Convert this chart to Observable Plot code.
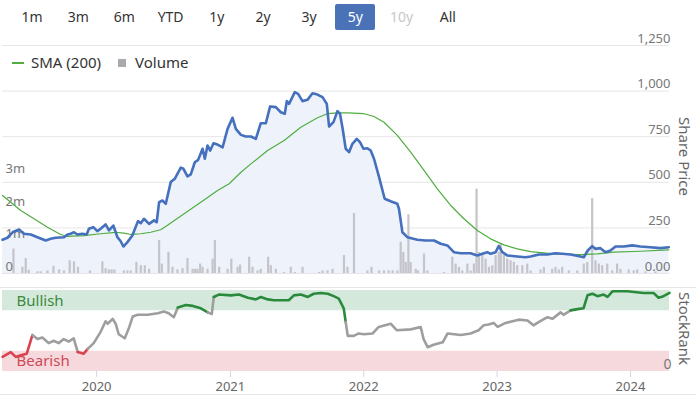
<!DOCTYPE html>
<html><head><meta charset="utf-8">
<script src="https://cdn.jsdelivr.net/npm/d3@7"></script>
<script src="https://cdn.jsdelivr.net/npm/@observablehq/plot@0.6"></script>
<style>
body{margin:0;background:#fff;font-family:"Noto Sans",sans-serif;}
#wrap{position:relative;width:696px;height:396px;overflow:hidden;background:#fff;}
#wrap svg{position:absolute;left:0;top:0;}
.btn{position:absolute;top:4px;height:26px;line-height:26px;font-size:14px;color:#333;text-align:center;width:40px;border-radius:2px;}
.btn.sel{background:#4a73b7;color:#fff;}
.btn.dis{color:#c8c8c8;}
.leg{position:absolute;font-size:15px;color:#333;line-height:18px;}
.vlab{position:absolute;writing-mode:vertical-rl;font-size:15px;color:#666;white-space:nowrap;}
.hline{position:absolute;left:0;width:696px;height:1px;background:#e6e6e6;}
</style></head>
<body><div id="wrap"></div>
<script>
// ---------- data (dates as decimal years) ----------
const rangeButtons = ["1m","3m","6m","YTD","1y","2y","3y","5y","10y","All"];
const selectedRange = "5y";
const disabledRange = "10y";
const legendItems = ["SMA (200)", "Volume"];

const priceTicks = [0, 250, 500, 750, 1000, 1250];
const volumeTicks = [0, 1, 2, 3];         // millions
const yearTicks = [2020, 2021, 2022, 2023, 2024];
const bullishMin = 75, bearishMax = 25;  // StockRank zones

const sharePrice = [[2019.294,185],[2019.331,196],[2019.369,226],[2019.418,241],[2019.455,218],[2019.506,214],[2019.556,199],[2019.618,181],[2019.655,190],[2019.693,196],[2019.755,199],[2019.781,214],[2019.805,218],[2019.830,226],[2019.855,214],[2019.893,218],[2019.925,214],[2019.942,245],[2019.975,254],[2020.005,232],[2020.030,245],[2020.067,269],[2020.092,236],[2020.125,263],[2020.155,199],[2020.180,177],[2020.200,148],[2020.230,172],[2020.267,208],[2020.309,287],[2020.330,276],[2020.354,300],[2020.392,272],[2020.429,291],[2020.449,281],[2020.467,391],[2020.492,400],[2020.517,382],[2020.554,501],[2020.584,519],[2020.629,580],[2020.649,574],[2020.679,532],[2020.704,543],[2020.734,610],[2020.759,623],[2020.792,684],[2020.809,629],[2020.829,702],[2020.849,674],[2020.874,714],[2020.904,707],[2020.942,692],[2020.979,793],[2021.016,854],[2021.041,793],[2021.079,760],[2021.116,751],[2021.154,751],[2021.191,738],[2021.228,824],[2021.266,824],[2021.298,916],[2021.341,912],[2021.378,884],[2021.408,876],[2021.423,945],[2021.440,930],[2021.483,994],[2021.508,985],[2021.541,945],[2021.578,952],[2021.616,988],[2021.653,981],[2021.691,967],[2021.723,930],[2021.740,806],[2021.773,830],[2021.803,890],[2021.822,876],[2021.840,802],[2021.865,684],[2021.890,665],[2021.915,711],[2021.948,738],[2021.972,720],[2021.998,684],[2022.028,687],[2022.052,674],[2022.077,629],[2022.115,528],[2022.157,410],[2022.202,396],[2022.252,382],[2022.264,355],[2022.290,226],[2022.327,199],[2022.402,185],[2022.464,181],[2022.527,181],[2022.577,163],[2022.627,154],[2022.676,117],[2022.727,111],[2022.801,111],[2022.852,99],[2022.889,108],[2022.927,117],[2022.951,108],[2022.989,117],[2023.013,151],[2023.039,117],[2023.076,99],[2023.151,93],[2023.213,89],[2023.251,93],[2023.313,104],[2023.376,104],[2023.438,111],[2023.488,108],[2023.551,104],[2023.625,93],[2023.650,89],[2023.680,126],[2023.713,150],[2023.738,135],[2023.775,139],[2023.813,117],[2023.850,126],[2023.888,148],[2023.950,148],[2024.013,154],[2024.075,148],[2024.150,144],[2024.225,139],[2024.287,144]];

const sma200 = [[2019.294,428],[2019.356,391],[2019.431,345],[2019.530,300],[2019.631,254],[2019.730,214],[2019.781,203],[2019.905,208],[2020.030,218],[2020.142,226],[2020.204,221],[2020.255,214],[2020.330,218],[2020.404,226],[2020.479,240],[2020.530,265],[2020.654,327],[2020.779,391],[2020.904,455],[2020.991,492],[2021.079,555],[2021.154,601],[2021.279,674],[2021.403,729],[2021.528,802],[2021.653,854],[2021.728,876],[2021.803,881],[2021.878,881],[2022.002,876],[2022.077,861],[2022.152,829],[2022.252,757],[2022.352,665],[2022.452,565],[2022.552,464],[2022.652,373],[2022.751,300],[2022.852,236],[2022.951,190],[2023.051,157],[2023.151,135],[2023.251,120],[2023.426,108],[2023.625,104],[2023.751,108],[2023.875,117],[2024.075,122],[2024.287,130]];

const volumeM = [[2019.376,0.75],[2019.443,0.19],[2019.468,0.46],[2019.491,0.10],[2019.556,0.05],[2019.581,0.05],[2019.631,0.08],[2019.676,0.22],[2019.718,0.11],[2019.755,0.08],[2019.798,0.39],[2019.830,0.36],[2019.860,0.19],[2019.950,0.08],[2020.043,0.36],[2020.067,0.15],[2020.092,0.11],[2020.112,0.11],[2020.133,0.11],[2020.204,0.08],[2020.230,0.08],[2020.255,0.08],[2020.297,0.34],[2020.330,0.24],[2020.360,0.24],[2020.392,0.13],[2020.467,1.01],[2020.487,0.29],[2020.537,0.65],[2020.567,0.19],[2020.604,0.11],[2020.642,0.15],[2020.679,0.46],[2020.717,0.13],[2020.736,0.13],[2020.754,0.13],[2020.774,0.29],[2020.792,0.19],[2020.829,0.13],[2020.867,0.44],[2020.884,1.01],[2020.916,0.19],[2020.979,0.13],[2021.007,0.44],[2021.054,0.19],[2021.073,0.26],[2021.141,0.5],[2021.166,0.19],[2021.204,0.08],[2021.228,0.13],[2021.283,0.5],[2021.303,0.24],[2021.341,0.13],[2021.403,0.03],[2021.453,0.19],[2021.483,0.03],[2021.541,0.19],[2021.665,0.03],[2021.691,0.08],[2021.728,0.08],[2021.766,0.13],[2021.852,0.55],[2021.878,0.19],[2021.927,1.84],[2022.028,0.08],[2022.058,0.19],[2022.115,0.08],[2022.152,0.08],[2022.187,0.08],[2022.217,0.08],[2022.252,0.08],[2022.277,0.96],[2022.297,0.65],[2022.315,0.34],[2022.335,1.80],[2022.352,0.34],[2022.390,0.13],[2022.407,0.08],[2022.452,0.6],[2022.477,0.08],[2022.601,0.03],[2022.664,0.5],[2022.689,0.29],[2022.714,0.19],[2022.739,0.08],[2022.777,0.29],[2022.801,0.08],[2022.826,0.29],[2022.846,2.59],[2022.864,0.65],[2022.889,0.6],[2022.914,0.44],[2022.939,0.19],[2022.964,0.24],[2022.989,0.55],[2023.013,0.65],[2023.028,0.91],[2023.051,0.55],[2023.076,0.44],[2023.101,0.39],[2023.126,0.34],[2023.151,0.24],[2023.189,0.24],[2023.226,0.29],[2023.251,0.08],[2023.326,0.11],[2023.351,0.19],[2023.413,0.13],[2023.438,0.19],[2023.463,0.11],[2023.488,0.19],[2023.538,0.08],[2023.601,0.08],[2023.650,0.29],[2023.676,0.34],[2023.713,2.30],[2023.738,0.39],[2023.763,0.29],[2023.788,0.24],[2023.826,0.29],[2023.863,0.08],[2023.900,0.29],[2023.925,0.13],[2023.987,0.11],[2024.025,0.08],[2024.050,0.11],[2024.112,0.05],[2024.187,0.05]];

const stockRank = [[2019.294,18],[2019.356,24],[2019.393,18],[2019.431,20],[2019.476,22],[2019.518,45],[2019.556,40],[2019.593,42],[2019.640,35],[2019.678,38],[2019.715,35],[2019.753,40],[2019.790,37],[2019.828,41],[2019.858,24],[2019.903,22],[2019.933,28],[2019.978,35],[2020.030,49],[2020.067,62],[2020.082,59],[2020.120,65],[2020.142,59],[2020.165,46],[2020.210,41],[2020.240,53],[2020.270,68],[2020.307,70],[2020.382,70],[2020.457,72],[2020.502,74],[2020.539,72],[2020.577,67],[2020.607,79],[2020.667,82],[2020.719,81],[2020.779,78],[2020.831,73],[2020.861,71],[2020.876,92],[2020.914,95],[2021.004,94],[2021.064,95],[2021.131,91],[2021.191,89],[2021.228,92],[2021.281,89],[2021.326,88],[2021.438,88],[2021.476,94],[2021.528,95],[2021.581,92],[2021.625,96],[2021.678,97],[2021.730,96],[2021.775,93],[2021.813,90],[2021.850,78],[2021.865,61],[2021.880,44],[2021.925,44],[2021.963,47],[2022.000,46],[2022.067,47],[2022.112,55],[2022.202,59],[2022.247,51],[2022.352,52],[2022.427,55],[2022.449,40],[2022.479,30],[2022.524,33],[2022.592,36],[2022.629,47],[2022.727,45],[2022.801,47],[2022.861,51],[2022.899,57],[2022.936,58],[2022.974,60],[2023.004,55],[2023.064,60],[2023.161,64],[2023.228,63],[2023.273,57],[2023.311,61],[2023.378,67],[2023.416,65],[2023.476,73],[2023.498,70],[2023.551,75.5],[2023.603,77],[2023.648,78],[2023.678,94],[2023.715,96],[2023.753,93],[2023.798,95],[2023.828,92],[2023.865,99],[2023.978,99],[2024.097,97],[2024.172,97],[2024.210,91],[2024.247,93],[2024.292,97]];

// ---------- helpers ----------
const toDate = y => { const yr = Math.floor(y); const s = Date.UTC(yr,0,1), e = Date.UTC(yr+1,0,1); return new Date(s + (y-yr)*(e-s)); };
const rows = arr => arr.map(([t,v]) => ({date: toDate(t), value: v}));
const price = rows(sharePrice), sma = rows(sma200), vol = rows(volumeM), rank = rows(stockRank);
const xDomain = d3.extent(price.concat(rank), d => d.date);
const yearDates = yearTicks.map(y => new Date(Date.UTC(y,0,1)));

const W = 696, H = 396, ML = 2, MR = 27;
const FONT = '"Noto Sans", sans-serif';
const baseStyle = {background: "transparent", fontFamily: FONT, fontSize: "13px", color: "#666", overflow: "visible"};
const xOpt = {type: "utc", domain: xDomain, axis: null};
const priceY = {domain: [0, 1250], axis: null, label: null};
const priceFrame = {marginTop: 45, marginBottom: H - 273, marginLeft: ML, marginRight: MR};

const wrap = document.getElementById("wrap");

// layer 1: grid + price area
wrap.append(Plot.plot({width: W, height: H, ...priceFrame, style: baseStyle,
  x: xOpt, y: priceY,
  marks: [
    Plot.ruleY(priceTicks, {stroke: "#e6e6e6", x1: xDomain[0], x2: xDomain[1]}),
    Plot.areaY(price, {x: "date", y: "value", fill: "#eef2fa"})
  ]}));

// layer 2: volume bars + left axis
wrap.append(Plot.plot({width: W, height: H, ...priceFrame, style: baseStyle,
  x: xOpt, y: {domain: [0, 7], axis: null, label: null},
  marks: [
    Plot.ruleX(vol, {x: "date", y: "value", stroke: "#c4c4ca", strokeWidth: 2.2}),
    Plot.axisY({anchor: "left", ticks: volumeTicks, tickFormat: d => d === 0 ? "0" : d + "m",
      tickSize: 0, tickPadding: 0, textAnchor: "start", dx: 3, dy: -7, label: null, fill: "#777"})
  ]}));

// layer 3: SMA + price line + right axis
wrap.append(Plot.plot({width: W, height: H, ...priceFrame, style: baseStyle,
  x: xOpt, y: priceY,
  marks: [
    Plot.lineY(sma, {x: "date", y: "value", stroke: "#4fae3f", strokeWidth: 1.2}),
    Plot.lineY(price, {x: "date", y: "value", stroke: "#4470bd", strokeWidth: 2.6}),
    Plot.axisY({anchor: "right", ticks: priceTicks, tickFormat: d => d === 0 ? "0.00" : d3.format(",")(d),
      tickSize: 0, tickPadding: 1, textAnchor: "end", dy: -7, label: null, fill: "#777"})
  ]}));

// layer 4: StockRank panel
const zone = v => v >= bullishMin ? "#2a8a3c" : v <= bearishMax ? "#d9434f" : "#9e9e9e";
wrap.append(Plot.plot({width: W, height: H, marginTop: 290, marginBottom: H - 371, marginLeft: ML, marginRight: MR,
  style: baseStyle,
  x: {type: "utc", domain: xDomain, label: null},
  y: {domain: [0, 100], axis: null, label: null},
  color: {type: "identity"},
  marks: [
    Plot.rect([{y1: bullishMin, y2: 100}], {x1: xDomain[0], x2: xDomain[1], y1: "y1", y2: "y2", fill: "#d4e9dc"}),
    Plot.rect([{y1: 0, y2: bearishMax}], {x1: xDomain[0], x2: xDomain[1], y1: "y1", y2: "y2", fill: "#f6d9dc"}),
    Plot.text([{t: "Bullish", v: 100}], {text: "t", y: "v", frameAnchor: "left", dx: 14, dy: 5, textAnchor: "start", lineAnchor: "top", fill: "#3a8a3a", fontSize: 15}),
    Plot.text([{t: "Bearish", v: bearishMax}], {text: "t", y: "v", frameAnchor: "left", dx: 14, dy: 4, textAnchor: "start", lineAnchor: "top", fill: "#d04858", fontSize: 15}),
    Plot.lineY(rank, {x: "date", y: "value", z: null, stroke: d => zone(d.value), strokeWidth: 2.6}),
    Plot.axisY({anchor: "right", ticks: [0], tickSize: 0, tickPadding: 2, textAnchor: "end", dy: -7, label: null, fill: "#777", fontSize: 14}),
    Plot.axisX({anchor: "bottom", ticks: yearDates, tickFormat: d3.utcFormat("%Y"), tickSize: 6, tickPadding: 4, label: null, stroke: "#ccd6eb", fill: "#666"})
  ]}));

// ---------- HTML chrome: range buttons, legend, titles ----------
rangeButtons.forEach((b, i) => {
  const el = document.createElement("div");
  el.className = "btn" + (b === selectedRange ? " sel" : "") + (b === disabledRange ? " dis" : "");
  el.textContent = b;
  el.style.left = (12 + i * 46.2) + "px";
  wrap.append(el);
});
function add(html, cls, css) { const el = document.createElement("div"); el.className = cls; el.innerHTML = html; Object.assign(el.style, css); wrap.append(el); return el; }
add("", "", {position: "absolute", left: "12px", top: "62px", width: "12px", height: "1.5px", background: "#4fae3f"});
add(legendItems[0], "leg", {left: "31px", top: "53px"});
add("", "", {position: "absolute", left: "118px", top: "59px", width: "8px", height: "8px", background: "#a9a9ae"});
add(legendItems[1], "leg", {left: "135px", top: "53px"});
add("Share Price", "vlab", {left: "675px", top: "117px"});
add("StockRank", "vlab", {left: "675px", top: "292px"});
add("", "hline", {top: "287px"});
add("", "hline", {top: "394px"});
</script></body></html>
